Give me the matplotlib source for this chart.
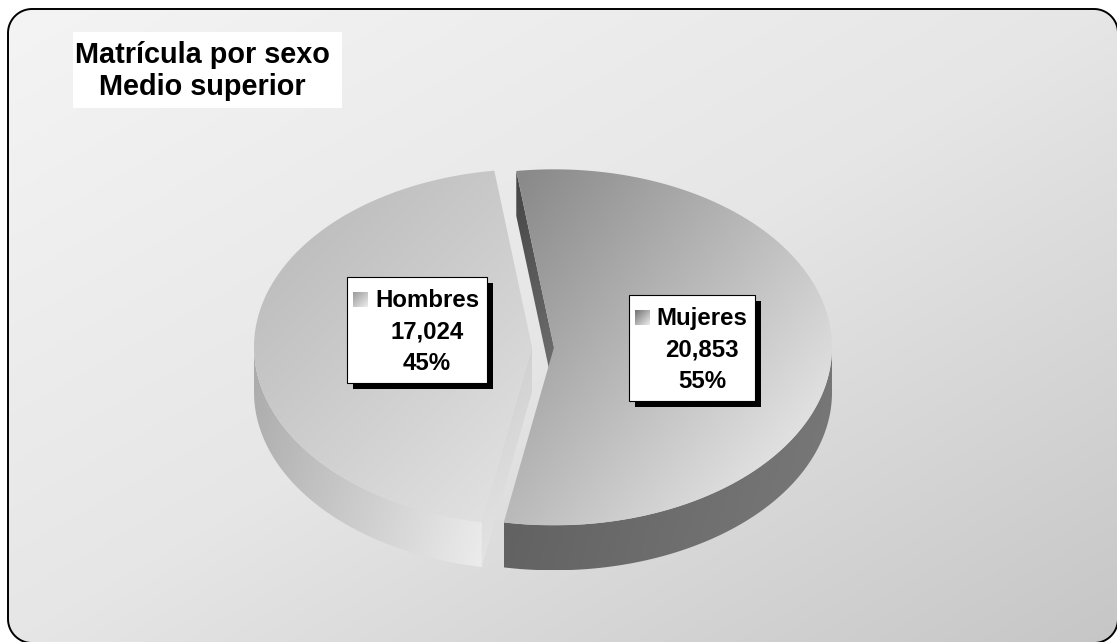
import numpy as np
import matplotlib.pyplot as plt
from matplotlib.patches import Polygon, Rectangle
from matplotlib.colors import LinearSegmentedColormap

# datos
labels = ['Hombres', 'Mujeres']
values = [17024, 20853]
explode = [0, 22]
title_lines = ['Matrícula por sexo', 'Medio superior']

W, H = 1117, 642
FONT = 'Liberation Sans'

fig = plt.figure(figsize=(W / 100, H / 100), dpi=100)
ax = fig.add_axes([0, 0, 1, 1])
ax.axis('off')


def fill_grad(patch, extent, colors, dx, dy, z):
    # relleno con degradado lineal recortado a la figura
    x0, x1, y0, y1 = extent
    X, Y = np.meshgrid(np.linspace(0, 1, 200), np.linspace(0, 1, 200))
    t = X * dx + Y * dy
    t = (t - t.min()) / (t.max() - t.min())
    cmap = LinearSegmentedColormap.from_list('g', colors)
    patch.set_facecolor('none')
    patch.set_edgecolor('none')
    patch.set_zorder(z)
    ax.add_patch(patch)
    im = ax.imshow(t, cmap=cmap, extent=(x0, x1, y1, y0), origin='upper',
                   aspect='auto', interpolation='bilinear', zorder=z)
    im.set_clip_path(patch)


def poly_extent(pts):
    pts = np.asarray(pts)
    return pts[:, 0].min(), pts[:, 0].max(), pts[:, 1].min(), pts[:, 1].max()


def round_rect(x0, y0, x1, y1, r):
    pts = []
    for (ccx, ccy, a0) in [(x1 - r, y0 + r, -90), (x1 - r, y1 - r, 0),
                           (x0 + r, y1 - r, 90), (x0 + r, y0 + r, 180)]:
        th = np.radians(np.linspace(a0, a0 + 90, 20))
        pts.append(np.column_stack([ccx + r * np.cos(th), ccy + r * np.sin(th)]))
    return np.vstack(pts)


# fondo con borde redondeado
rr = round_rect(8, 9, 1118, 643, 24)
fill_grad(Polygon(rr), (8, 1118, 9, 643), ['#f4f4f4', '#e6e6e6', '#c6c6c6'], 1, 1, 0)
ax.add_patch(Polygon(rr, closed=True, facecolor='none', edgecolor='black', lw=1.4, zorder=1))

# pastel 3D
total = sum(values)
fracs = [v / total for v in values]
start = 190.4
rx, ry, depth = 278, 178, 45
cx, cy = 532, 347


def arc(c, a0, a1, n=120, dz=0):
    th = np.radians(np.linspace(a0, a1, n))
    return np.column_stack([c[0] + rx * np.sin(th), c[1] - ry * np.cos(th) + dz])


slices = []
a = start
for i, f in enumerate(fracs):
    a0, a1 = a, a + f * 360
    mid = np.radians((a0 + a1) / 2)
    c = (cx + explode[i] * np.sin(mid), cy - explode[i] * np.cos(mid) * ry / rx)
    slices.append((a0, a1, c))
    a = a1

# Hombres
a0, a1, c = slices[0]
side = np.vstack([arc(c, a0, 270), arc(c, a0, 270, dz=depth)[::-1]])
fill_grad(Polygon(side), poly_extent(side), ['#aaaaaa', '#ececec'], 1, 0.3, 2)
p0 = arc(c, a0, a0, n=1)[0]
face = np.array([c, p0, p0 + [0, depth], np.array(c) + [0, depth]])
fill_grad(Polygon(face), poly_extent(face), ['#cccccc', '#e8e8e8'], 0.2, 1, 2)
topf = np.vstack([[c], arc(c, a0, a1)])
fill_grad(Polygon(topf), poly_extent(topf), ['#b6b6b6', '#e4e4e4'], 0.8, 1, 3)

# Mujeres
a0, a1, c = slices[1]
side = np.vstack([arc(c, 450, a1), arc(c, 450, a1, dz=depth)[::-1]])
fill_grad(Polygon(side), poly_extent(side), ['#5e5e5e', '#7a7a7a'], 1, 0.2, 4)
p0 = arc(c, a0, a0, n=1)[0]
face = np.array([c, p0, p0 + [0, depth], np.array(c) + [0, depth]])
fill_grad(Polygon(face), poly_extent(face), ['#444444', '#727272'], 0.2, 1, 4)
topf = np.vstack([[c], arc(c, a0, a1)])
fill_grad(Polygon(topf), poly_extent(topf), ['#868686', '#f4f4f4'], 1, 0.9, 5)

# titulo
ax.add_patch(Rectangle((73, 32), 269, 76, facecolor='white', edgecolor='none', zorder=6))
ax.text(202, 63, title_lines[0], ha='center', va='baseline', fontsize=20.8,
        fontweight='bold', family=FONT, zorder=7)
ax.text(202, 95, title_lines[1], ha='center', va='baseline', fontsize=20.8,
        fontweight='bold', family=FONT, zorder=7)

# etiquetas
boxes = [(347, 277, 140, 106, 426), (629, 295, 126, 106, 701)]
key_cols = [('#9a9a9a', '#eeeeee'), ('#707070', '#eeeeee')]
for i, (bx, by, bw, bh, tx) in enumerate(boxes):
    ax.add_patch(Rectangle((bx + 6, by + 6), bw, bh, facecolor='black', zorder=8))
    ax.add_patch(Rectangle((bx, by), bw, bh, facecolor='white', edgecolor='black',
                           lw=0.8, zorder=9))
    k = Rectangle((bx + 6, by + 15), 15, 15)
    fill_grad(k, (bx + 6, bx + 21, by + 15, by + 30), list(key_cols[i]), 1, 1, 10)
    pct = round(fracs[i] * 100)
    lines = [labels[i], f'{values[i]:,}', f'{pct}%']
    for j, s in enumerate(lines):
        ax.text(tx + 1, by + 30 + j * 31.5, s, ha='center', va='baseline', fontsize=17.3,
                fontweight='bold', family=FONT, zorder=10)

ax.set_xlim(0, W)
ax.set_ylim(H, 0)
fig.savefig('out.png', dpi=100, facecolor='white')
